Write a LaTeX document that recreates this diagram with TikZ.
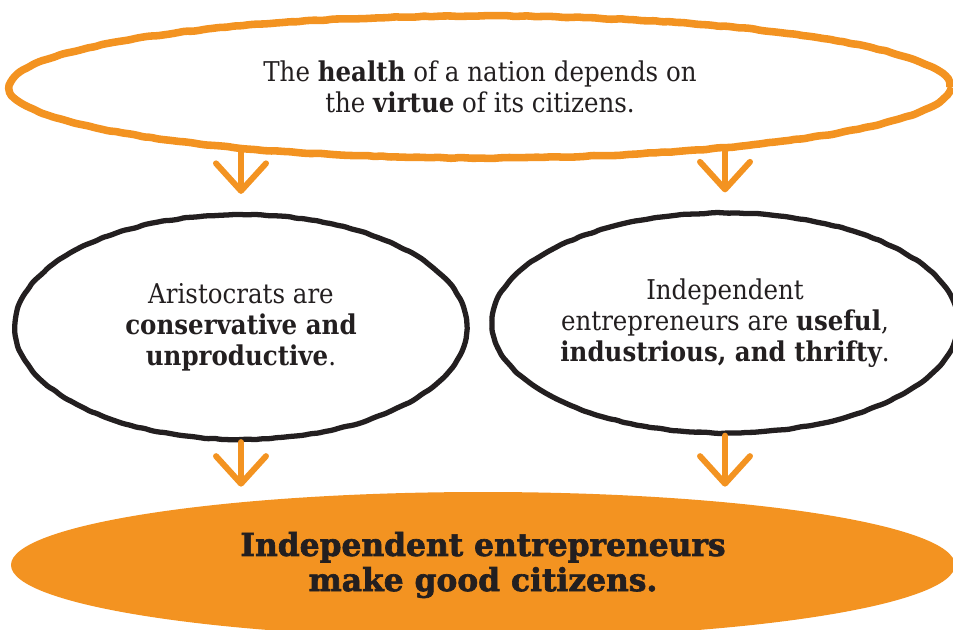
\documentclass[tikz,border=0pt]{standalone}
\usepackage{fontspec}
\setmainfont[FakeStretch=0.9]{DejaVu Serif}
\newfontfamily\heavyfont[FakeStretch=0.99,FakeBold=2]{DejaVu Serif Bold}
\usetikzlibrary{shapes.geometric,arrows.meta,decorations.pathmorphing}
\definecolor{ink}{RGB}{35,31,32}
\definecolor{orng}{RGB}{243,147,33}

\begin{document}
\begin{tikzpicture}[
  bubble/.style={ellipse, inner sep=0pt, align=center, text=ink,
    font=\fontsize{15.5}{17.6}\selectfont},
  rough/.style={decorate, decoration={random steps, segment length=4pt, amplitude=0.3pt}, rounded corners=1pt},
  down/.style={draw=orng, line width=3.4pt, line cap=round,
    -{Straight Barb[length=5.5mm, width=10mm, round]}}
]
\clip (0,0) rectangle (19.06,12.58);
\node[bubble, rough, draw=orng, line width=4.3pt, minimum width=18.8cm, minimum height=2.84cm] (h) at (9.6,10.84)
  {The \textbf{health} of a nation depends on\\ the \textbf{virtue} of its citizens.};
\node[bubble, rough, draw=ink, line width=3pt, minimum width=9.04cm, minimum height=4.5cm] (a) at (4.82,6.04)
  {Aristocrats are\\ \textbf{conservative and}\\ \textbf{unproductive}.};
\node[bubble, rough, draw=ink, line width=3pt, minimum width=8.9cm, minimum height=4.4cm] (e) at (14.5,6.12)
  {Independent\\ entrepreneurs are \textbf{useful},\\ \textbf{industrious, and thrifty}.};
\node[bubble, fill=orng, minimum width=18.88cm, minimum height=2.92cm,
  font=\heavyfont\fontsize{18}{20}\selectfont] (c) at (9.66,1.28)
  {Independent entrepreneurs\\ make good citizens.};

\draw[down, shorten <=-2mm, shorten >=3.6mm] (a.north |- h.south) -- (a.north);
\draw[down, shorten <=-2mm, shorten >=3.6mm] (e.north |- h.south) -- (e.north);
\draw[down, shorten >=1mm] (a.south) -- (a.south |- c.north);
\draw[down, shorten >=1mm] (e.south) -- (e.south |- c.north);
\end{tikzpicture}
\end{document}
